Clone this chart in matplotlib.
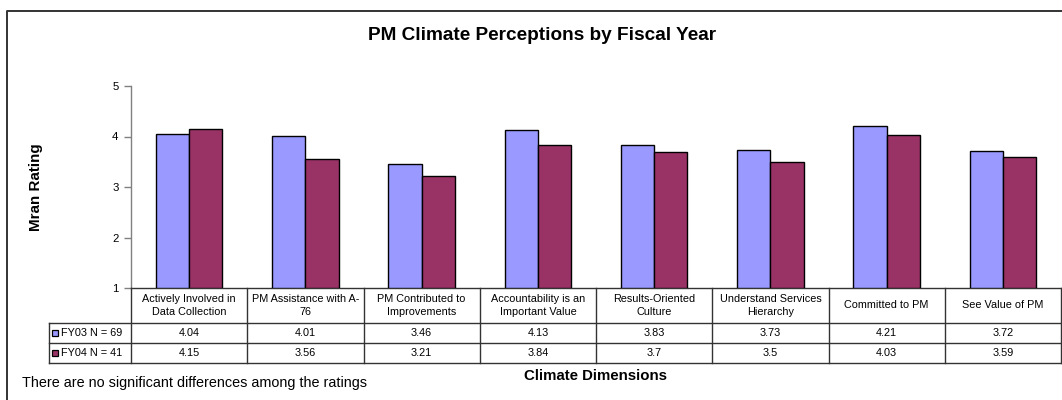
import matplotlib
matplotlib.use("Agg")
import matplotlib.pyplot as plt
from matplotlib.lines import Line2D
from matplotlib.patches import Rectangle
from matplotlib.transforms import blended_transform_factory
import numpy as np

plt.rcParams["font.family"] = ["Liberation Sans", "DejaVu Sans"]

# ── data ────────────────────────────────────────────────────────────────────
categories = [
    "Actively Involved in\nData Collection",
    "PM Assistance with A-\n76",
    "PM Contributed to\nImprovements",
    "Accountability is an\nImportant Value",
    "Results-Oriented\nCulture",
    "Understand Services\nHierarchy",
    "Committed to PM",
    "See Value of PM",
]
fy03 = [4.04, 4.01, 3.46, 4.13, 3.83, 3.73, 4.21, 3.72]
fy04 = [4.15, 3.56, 3.21, 3.84, 3.7, 3.5, 4.03, 3.59]
series_labels = ["FY03 N = 69", "FY04 N = 41"]
yticks = [1, 2, 3, 4, 5]

C_FY03 = "#9999FF"
C_FY04 = "#993366"
C_AXIS = "#808080"
C_LINE = "#333333"

W, H = 1062, 400
FS_TAB = 7.8


def fx(px):
    return px / W


def fy(py):
    return 1 - py / H


fig = plt.figure(figsize=(W / 100, H / 100), dpi=100, facecolor="white")
ax = fig.add_axes([fx(131), fy(288), fx(1061) - fx(131), fy(86) - fy(288)])

x = np.arange(len(categories))
bw = 0.285
ax.bar(x - bw / 2, np.array(fy03) - 1, bw, bottom=1, color=C_FY03,
       edgecolor="black", linewidth=1.0, zorder=3)
ax.bar(x + bw / 2, np.array(fy04) - 1, bw, bottom=1, color=C_FY04,
       edgecolor="black", linewidth=1.0, zorder=3)

ax.set_xlim(-0.5, len(categories) - 0.5)
ax.set_ylim(1, 5)
ax.set_yticks(yticks)
ax.set_xticks([])
ax.tick_params(axis="y", direction="out", length=5, width=1, color=C_AXIS,
               labelsize=8.2, pad=4)
for side in ("top", "right"):
    ax.spines[side].set_visible(False)
ax.spines["left"].set_color(C_AXIS)
ax.spines["left"].set_linewidth(1.0)
ax.spines["bottom"].set_color(C_LINE)
ax.spines["bottom"].set_linewidth(1.0)

# ── data table under the bars ──────────────────────────────────────────────
tr = blended_transform_factory(ax.transData, fig.transFigure)
y_top, y_hdr, y_r1, y_r2 = 288, 323, 343, 363
x_leg = 49
lw = 1.0

def hline(py, x0_px, x1_data):
    x0 = ax.transData.inverted().transform((x0_px, 0))[0]
    fig.add_artist(Line2D([x0, x1_data], [fy(py), fy(py)], transform=tr,
                          color=C_LINE, linewidth=lw, clip_on=False))

for py in (y_hdr, y_r1, y_r2):
    hline(py, x_leg, len(categories) - 0.5)

for b in np.arange(len(categories) + 1) - 0.5:
    fig.add_artist(Line2D([b, b], [fy(y_top), fy(y_r2)], transform=tr,
                          color=C_LINE, linewidth=lw, clip_on=False))
fig.add_artist(Line2D([fx(x_leg), fx(x_leg)], [fy(y_hdr), fy(y_r2)],
                      transform=fig.transFigure, color=C_LINE,
                      linewidth=lw))

for i, cat in enumerate(categories):
    fig.text(i, fy((y_top + y_hdr) / 2), cat, transform=tr, ha="center",
             va="center", fontsize=FS_TAB, linespacing=1.35)
    fig.text(i, fy((y_hdr + y_r1) / 2), f"{fy03[i]:g}", transform=tr,
             ha="center", va="center", fontsize=FS_TAB)
    fig.text(i, fy((y_r1 + y_r2) / 2), f"{fy04[i]:g}", transform=tr,
             ha="center", va="center", fontsize=FS_TAB)

# legend keys in the row headers
for (r0, r1), lab, col in zip(((y_hdr, y_r1), (y_r1, y_r2)), series_labels,
                              (C_FY03, C_FY04)):
    yc = (r0 + r1) / 2
    fig.add_artist(Rectangle((fx(52), fy(yc + 3)), fx(6), fy(0) - fy(6),
                             transform=fig.transFigure, facecolor=col,
                             edgecolor="black", linewidth=0.9))
    fig.text(fx(61), fy(yc), lab, ha="left", va="center", fontsize=FS_TAB)

# ── titles and notes ───────────────────────────────────────────────────────
fig.text(fx(542), fy(35), "PM Climate Perceptions by Fiscal Year",
         ha="center", va="center", fontsize=13.7, fontweight="bold")
fig.text(fx(36), fy(187), "Mran Rating", ha="center", va="center",
         rotation=90, fontsize=10.9, fontweight="bold")
fig.text(fx(596), fy(376), "Climate Dimensions", ha="center", va="center",
         fontsize=10.8, fontweight="bold")
fig.text(fx(22), fy(383), "There are no significant differences among the ratings",
         ha="left", va="center", fontsize=10.4)

# chart frame
fig.add_artist(Line2D([fx(7), fx(7), fx(W)], [fy(H), fy(11), fy(11)],
                      transform=fig.transFigure, color=C_LINE, linewidth=1.4))

fig.savefig("out.png", dpi=100, facecolor="white")
